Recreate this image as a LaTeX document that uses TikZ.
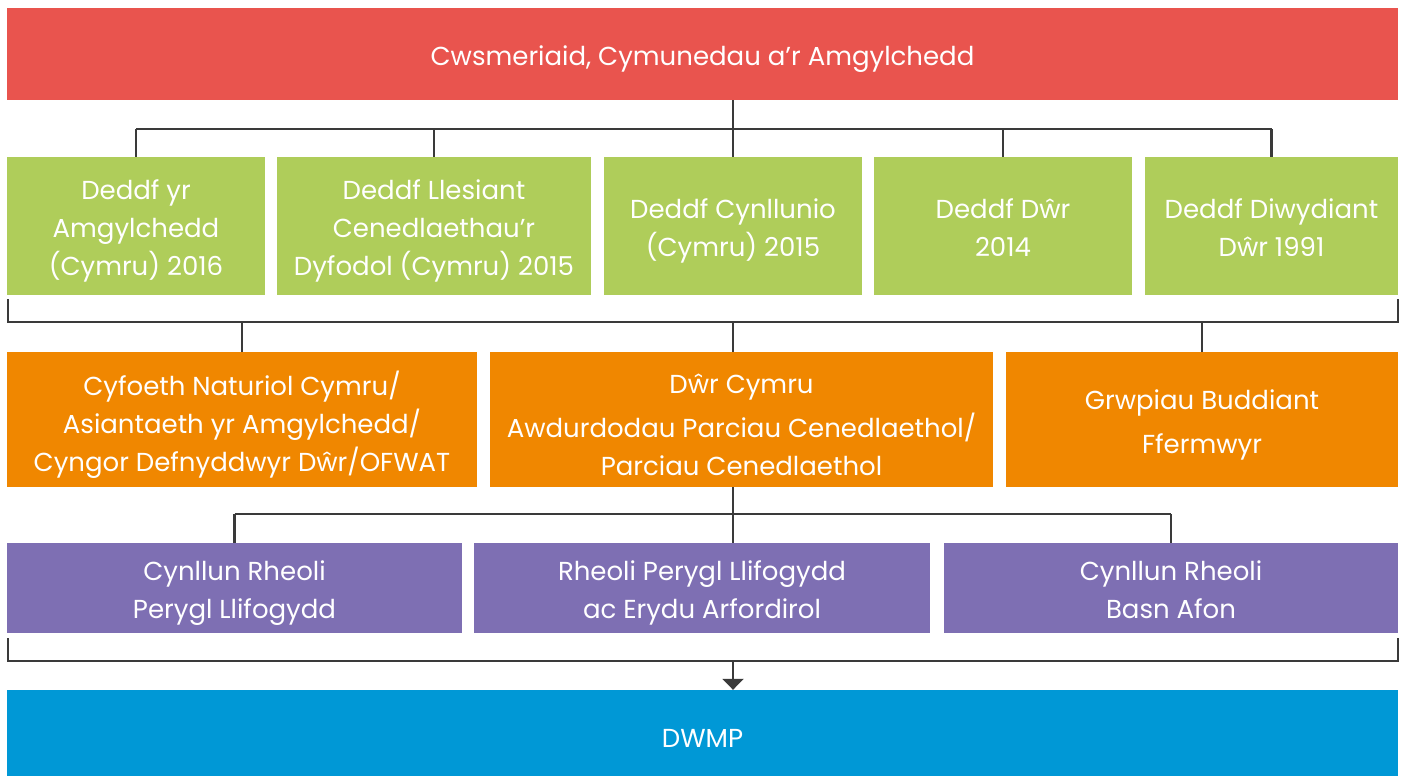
\documentclass[tikz,border=0pt]{standalone}
\usepackage{fontspec}
\setmainfont{Poppins}
\usetikzlibrary{arrows.meta}
\definecolor{cred}{HTML}{E9544E}
\definecolor{cgreen}{HTML}{AFCD5A}
\definecolor{corange}{HTML}{F08700}
\definecolor{cpurple}{HTML}{7E6FB3}
\definecolor{cblue}{HTML}{0098D6}
\definecolor{cline}{HTML}{3A3A3A}
\tikzset{
  lbl/.style={inner sep=0pt, text=white, align=center, anchor=center, yshift=-5pt,
    font=\fontsize{26}{38}\selectfont},
  box/.style={rectangle, inner sep=0pt},
  redbox/.style={box, fill=cred, minimum width=1391pt, minimum height=92pt},
  greenbox/.style={box, fill=cgreen, minimum height=138pt},
  orangebox/.style={box, fill=corange, minimum height=135pt},
  purplebox/.style={box, fill=cpurple, minimum height=90pt},
  bluebox/.style={box, fill=cblue, minimum width=1391pt, minimum height=86pt},
  conn/.style={draw=cline, line width=2.2pt},
}
\begin{document}
\begin{tikzpicture}[x=1pt,y=-1pt]
\useasboundingbox (0,0) rectangle (1405,776);
\node[redbox, label={[lbl]center:{Cwsmeriaid, Cymunedau a’r Amgylchedd}}] (red) at (702.5,54) {};

\node[greenbox, minimum width=258pt, label={[lbl]center:{Deddf yr\\Amgylchedd\\(Cymru) 2016}}] (g1) at (136,226) {};
\node[greenbox, minimum width=314pt, label={[lbl]center:{Deddf Llesiant\\Cenedlaethau’r\\Dyfodol (Cymru) 2015}}] (g2) at (434,226) {};
\node[greenbox, minimum width=258pt, label={[lbl]center:{Deddf Cynllunio\\(Cymru) 2015}}] (g3) at (733,226) {};
\node[greenbox, minimum width=258pt, label={[lbl]center:{Deddf Dŵr\\2014\vphantom{(y}}}] (g4) at (1003,226) {};
\node[greenbox, minimum width=253pt, label={[lbl]center:{Deddf Diwydiant\\Dŵr 1991\vphantom{(y}}}] (g5) at (1271.5,226) {};

\node[orangebox, minimum width=470pt, label={[lbl]center:{Cyfoeth Naturiol Cymru/\\Asiantaeth yr Amgylchedd/\\Cyngor Defnyddwyr Dŵr/OFWAT}}] (o1) at (242,419.5) {};
\node[orangebox, minimum width=503pt, label={[lbl]center:{Dŵr Cymru\\[6pt]Awdurdodau Parciau Cenedlaethol/\\Parciau Cenedlaethol}}] (o2) at (741.5,419.5) {};
\node[orangebox, minimum width=392pt, label={[lbl]center:{Grwpiau Buddiant\\[6pt]Ffermwyr}}] (o3) at (1202,419.5) {};

\node[purplebox, minimum width=455pt, label={[lbl]center:{Cynllun Rheoli\\Perygl Llifogydd}}] (p1) at (234.5,588) {};
\node[purplebox, minimum width=456pt, label={[lbl]center:{Rheoli Perygl Llifogydd\\ac Erydu Arfordirol}}] (p2) at (702,588) {};
\node[purplebox, minimum width=454pt, label={[lbl]center:{Cynllun Rheoli\\Basn Afon\vphantom{y}}}] (p3) at (1171,588) {};

\node[bluebox, label={[lbl]center:{DWMP}}] (dwmp) at (702.5,733) {};

% top tree
\coordinate (t) at (733,129);
\draw[conn] (red.south -| g3.north) -- (g3.north);
\draw[conn] (g1.north |- t) -- (g5.north |- t);
\foreach \n in {g1,g2,g4,g5} \draw[conn] (\n.north |- t) -- (\n.north);

% bracket under green row
\coordinate (bl) at (8,299);
\coordinate (br) at (1398,299);
\coordinate (b) at (733,322);
\draw[conn] (bl) -- (bl |- b) -- (br |- b) -- (br);
\draw[conn] (o1.north |- b) -- (o1.north);
\draw[conn] (g3.south |- b) -- (g3.south |- o2.north);
\draw[conn] (o3.north |- b) -- (o3.north);

% orange to purple
\coordinate (m) at (733,514);
\draw[conn] (g3.south |- o2.south) -- (g3.south |- p2.north);
\draw[conn] (p1.north |- m) -- (p3.north |- m);
\draw[conn] (p1.north |- m) -- (p1.north);
\draw[conn] (p3.north |- m) -- (p3.north);

% bracket under purple row
\coordinate (ql) at (8,638);
\coordinate (qr) at (1398,638);
\coordinate (q) at (733,661);
\draw[conn] (ql) -- (ql |- q) -- (qr |- q) -- (qr);
\draw[conn, -{Triangle[width=21pt,length=11pt]}] (q) -- (g3.south |- dwmp.north);
\end{tikzpicture}
\end{document}
